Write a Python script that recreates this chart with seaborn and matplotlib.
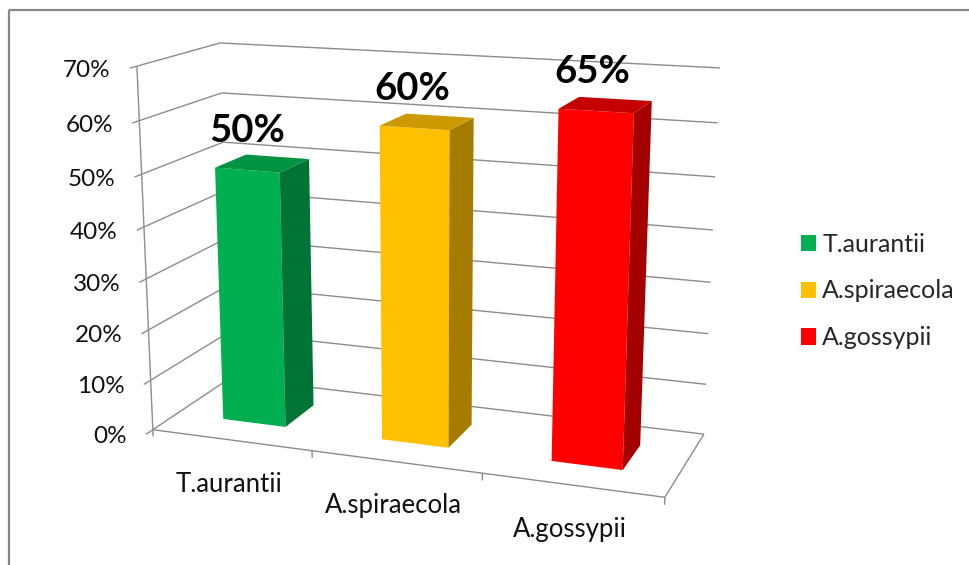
import numpy as np
import pandas as pd
import matplotlib
matplotlib.use("Agg")
import matplotlib.pyplot as plt
import matplotlib.transforms as mtransforms
from matplotlib.patches import Polygon, Patch
import seaborn as sns

# ---- data -------------------------------------------------------------
species = ["T.aurantii", "A.spiraecola", "A.gossypii"]
rates = [0.50, 0.60, 0.65]
value_ticks = [0.0, 0.1, 0.2, 0.3, 0.4, 0.5, 0.6, 0.7]
value_tick_labels = ["0%", "10%", "20%", "30%", "40%", "50%", "60%", "70%"]

# ---- styling ------------------------------------------------------------
front_colors = ["#00B050", "#FFC000", "#FF0000"]
side_colors = ["#007434", "#A67C00", "#A50000"]
top_colors = ["#009342", "#CC9A00", "#C40000"]
grid_color = "#8C8C8C"

W, H = 970, 565
sns.set_theme(style="white")
plt.rcParams["font.family"] = ["Lato", "DejaVu Sans"]

# ---- perspective camera -----------------------------------------------
# world: X along categories (0..3), Y value (0..0.7), Z depth (0 front .. 1 back wall)
frame_world = np.array([
    [0, 0.0, 0], [0, 0.7, 0], [0, 0.7, 1], [3, 0.7, 1],
    [3, 0.0, 1], [3, 0.0, 0], [1, 0.0, 0], [2, 0.0, 0],
], dtype=float)
frame_px = np.array([
    [153, 429], [137, 66], [220, 43], [720, 68],
    [704, 434], [665, 497], [312, 452], [482, 473],
], dtype=float)

CENTER = np.array([485.0, 282.0])
SCALE = 300.0


def fit_camera(world, px):
    uv = (px - CENTER) / SCALE
    rows = []
    for (X, Y, Z), (u, v) in zip(world, uv):
        rows.append([X, Y, Z, 1, 0, 0, 0, 0, -u * X, -u * Y, -u * Z, -u])
        rows.append([0, 0, 0, 0, X, Y, Z, 1, -v * X, -v * Y, -v * Z, -v])
    _, _, vt = np.linalg.svd(np.array(rows))
    return vt[-1].reshape(3, 4)


CAM = fit_camera(frame_world, frame_px)


def project(X, Y, Z):
    X, Y, Z = np.broadcast_arrays(np.atleast_1d(np.asarray(X, float)),
                                  np.atleast_1d(np.asarray(Y, float)),
                                  np.atleast_1d(np.asarray(Z, float)))
    pts = np.vstack([X, Y, Z, np.ones_like(X)])
    h = CAM @ pts
    uv = (h[:2] / h[2]).T
    return uv * SCALE + CENTER


class Perspective(mtransforms.Transform):
    """Maps seaborn's (category position, value) onto a depth plane."""
    input_dims = 2
    output_dims = 2
    is_separable = False

    def __init__(self, plane_z, offset=0.5):
        super().__init__()
        self.plane_z = plane_z
        self.offset = offset

    def transform_non_affine(self, values):
        values = np.atleast_2d(np.asarray(values, float))
        return project(values[:, 0] + self.offset, values[:, 1], self.plane_z)


# ---- figure -------------------------------------------------------------
fig = plt.figure(figsize=(W / 100, H / 100), dpi=100)
fig.patch.set_facecolor("white")
ax_px = fig.add_axes([0, 0, 1, 1])
ax_px.set_xlim(0, W)
ax_px.set_ylim(H, 0)
ax_px.set_axis_off()

# outer chart border
ax_px.plot([9, 9], [H + 5, 10], color="#878787", lw=1.6, solid_capstyle="butt")
ax_px.plot([9, W + 5], [10, 10], color="#878787", lw=1.6, solid_capstyle="butt")

X_MAX = len(species)
Y_MAX = value_ticks[-1]


def seg(p0, p1, **kw):
    a = project(*p0)[0]
    b = project(*p1)[0]
    ax_px.plot([a[0], b[0]], [a[1], b[1]], color=grid_color, lw=1.0,
               solid_capstyle="butt", **kw)


# back-wall and side-wall gridlines
for v in value_ticks:
    seg((0, v, 1), (X_MAX, v, 1))
    seg((0, v, 0), (0, v, 1))
    seg((0, v, 0), (0, v, -0.08))
# value axis and floor edges
seg((0, 0, 0), (0, Y_MAX, 0))
seg((0, 0, 0), (X_MAX, 0, 0))
seg((X_MAX, 0, 0), (X_MAX, 0, 1))
for i in range(X_MAX + 1):
    seg((i, 0, 0), (i, -0.014, 0))

# value tick labels
for v, lab in zip(value_ticks, value_tick_labels):
    p = project(0, v, -0.08)[0]
    ax_px.text(p[0] - 19, p[1] + 2, lab, ha="right", va="center",
               fontsize=17.5, color="#111111")

# category labels
for i, name in enumerate(species):
    p = project(i + 0.5, 0, 0)[0]
    ax_px.text(p[0] - 2, p[1] + 44, name, ha="center", va="center",
               fontsize=18.5, color="#111111")

# ---- bars -----------------------------------------------------------------
ax_data = fig.add_axes([0, 0, 1, 1])
ax_data.patch.set_alpha(0)
df = pd.DataFrame({"species": species, "rate": rates})
sns.barplot(data=df, x="species", y="rate", hue="species",
            palette=dict(zip(species, front_colors)), saturation=1,
            width=0.4, linewidth=0, legend=False, ax=ax_data)
ax_data.set_axis_off()

Z_FRONT, Z_BACK = 0.30, 0.70
for k, bar in enumerate(ax_data.patches):
    x0 = bar.get_x() + 0.5
    x1 = x0 + bar.get_width()
    h = bar.get_height()
    bar.set_transform(Perspective(Z_FRONT) + ax_px.transData)
    bar.set_clip_on(False)
    side = project([x1, x1, x1, x1], [0, h, h, 0], [Z_FRONT, Z_FRONT, Z_BACK, Z_BACK])
    top = project([x0, x1, x1, x0], [h, h, h, h], [Z_FRONT, Z_FRONT, Z_BACK, Z_BACK])
    ax_data.add_patch(Polygon(side, closed=True, facecolor=side_colors[k],
                              edgecolor="none", transform=ax_px.transData,
                              clip_on=False))
    ax_data.add_patch(Polygon(top, closed=True, facecolor=top_colors[k],
                              edgecolor="none", transform=ax_px.transData,
                              clip_on=False))
    lab = project((x0 + x1) / 2, h, Z_FRONT)[0]
    ax_data.text(lab[0] - 2 * k, lab[1] - 39, f"{h:.0%}", ha="center", va="center",
                 fontsize=27.5, fontweight="bold", color="black",
                 transform=ax_px.transData)

# ---- legend ------------------------------------------------------------
handles = [Patch(facecolor=c, edgecolor="none", label=s)
           for s, c in zip(species, front_colors)]
ax_data.legend(handles=handles, loc="center left",
               bbox_to_anchor=(801 / W, 1 - 291 / H), frameon=False,
               fontsize=18, handlelength=0.6, handleheight=0.62,
               handletextpad=0.25, labelspacing=0.95, borderpad=0,
               borderaxespad=0)

fig.savefig("out.png", dpi=100, facecolor="white")
